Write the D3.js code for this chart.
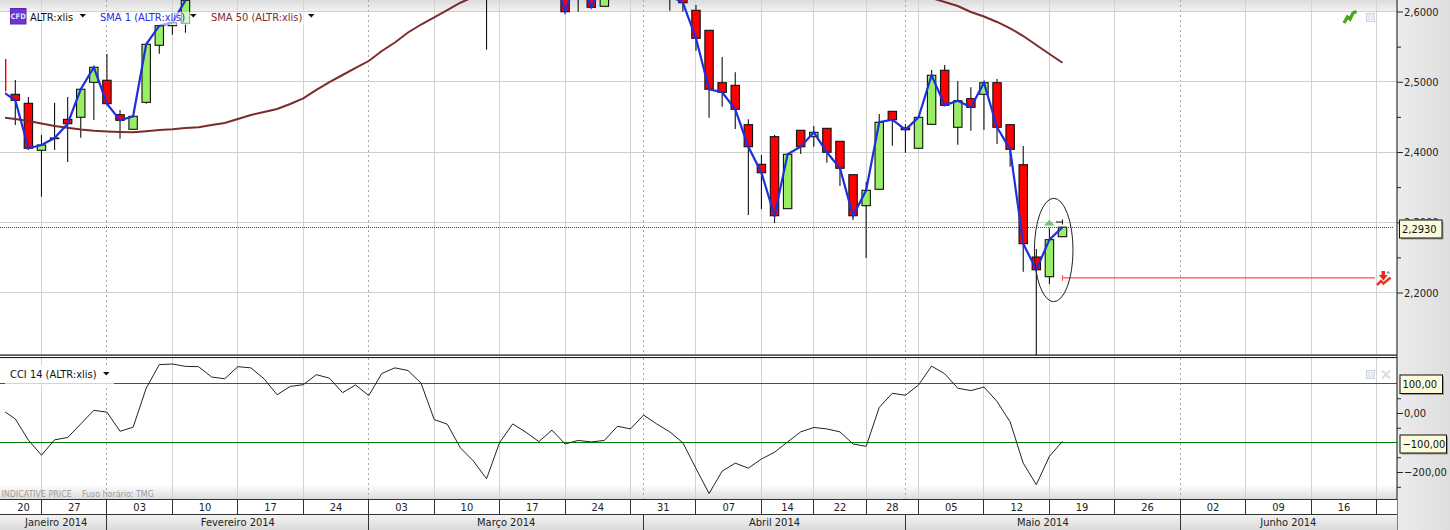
<!DOCTYPE html>
<html><head><meta charset="utf-8">
<script src="https://cdn.jsdelivr.net/npm/d3@7/dist/d3.min.js"></script>
<style>html,body{margin:0;padding:0;background:#fff;overflow:hidden}svg{display:block}
text{font-family:"DejaVu Sans Condensed","DejaVu Sans",sans-serif;font-stretch:condensed}</style></head><body><div id="c"></div>
<script>
// index of the first element is candle -1 (partly clipped at left edge)
const firstIndex=-1;
const opens=[2.5324,2.4821,2.4693,2.4024,2.4192,2.4465,2.4494,2.4992,2.5021,2.4531,2.4323,2.4707,2.5519,2.5798,2.5832,
null,null,null,null,null,null,null,null,null,null,null,null,null,null,null,null,null,null,null,null,null,null,
2.66,null,null,null,null,null,
2.6591,2.6733,2.6406,2.6074,null,null,null,null,2.64,2.6306,
2.6017,2.5732,2.4986,2.4949,2.4389,2.3825,2.4218,2.3193,2.4309,2.4218,2.4337,2.4152,2.3677,2.3236,2.3469,2.4579,2.4342,2.4053,2.4394,2.5163,2.4352,2.4759,2.4821,2.4986,2.4389,2.3819,2.2505,2.2225,2.2794];
const highs=[2.5324,2.5025,2.4783,2.4242,2.4702,2.4783,2.4893,2.5206,2.5395,2.4598,2.4508,2.5533,2.5798,2.5841,2.6159,
null,null,null,null,null,null,null,null,null,null,null,null,null,null,null,null,null,null,null,null,null,null,
2.67,null,null,null,null,null,
2.6591,2.68,2.65,2.6406,null,null,null,null,2.65,2.64,
2.6093,2.5732,2.5352,2.5135,2.4465,2.3957,2.4242,2.3967,2.4309,2.437,2.4337,2.4152,2.3677,2.3577,2.4541,2.4579,2.4394,2.4494,2.5167,2.5238,2.5011,2.4921,2.4986,2.5039,2.4389,2.4085,2.2619,2.2914,2.293];
const lows=[2.4864,2.4384,2.4028,2.3364,2.4028,2.3858,2.4204,2.4456,2.4688,2.4189,2.4323,2.4688,2.5399,2.567,2.5698,
null,null,null,null,null,null,null,null,null,null,null,null,null,null,null,null,null,null,null,null,null,null,
2.5456,null,null,null,null,null,
2.5997,2.5997,2.606,2.6074,null,null,null,null,2.6011,2.5997,
2.5442,2.4488,2.4645,2.4327,2.3103,2.3189,2.2989,2.3193,2.3971,2.4075,2.3848,2.3516,2.3032,2.2491,2.3469,2.409,2.399,2.4053,2.4394,2.4665,2.4104,2.4303,2.4313,2.4114,2.3791,2.2296,2.09,2.2121,2.2794];
const closes=[2.4864,2.4736,2.4053,2.41,2.4199,2.4403,2.4893,2.5206,2.4688,2.4451,2.4508,2.5533,2.5798,2.5841,2.6159,
null,null,null,null,null,null,null,null,null,null,null,null,null,null,null,null,null,null,null,null,null,null,
2.65,null,null,null,null,2.6648,
2.5997,2.652,2.606,2.6406,null,null,null,null,2.6225,2.6125,
2.5619,2.4893,2.485,2.4608,2.4075,2.3705,2.3093,2.3967,2.4075,2.428,2.3996,2.3768,2.3093,2.3455,2.4423,2.446,2.4317,2.4494,2.5092,2.4665,2.473,2.4636,2.4986,2.4352,2.4038,2.2695,2.2324,2.2752,2.293];
const sma50=[2.4494,2.447,2.4441,2.4406,2.437,2.4344,2.432,2.4302,2.4292,2.4285,2.428,2.4296,2.4313,2.4323,2.4342,2.4353,2.4384,2.4413,2.447,2.4527,2.4569,2.4612,2.4683,2.4764,2.4883,2.4996,2.5096,2.5196,2.5295,2.5438,2.5559,2.5701,2.5815,2.5915,2.6021,2.6125,2.6206,
null,null,null,null,null,null,null,null,null,null,null,null,null,null,null,null,null,null,null,null,null,null,null,null,null,null,null,null,null,null,null,null,null,null,
2.6192,2.6135,2.6078,2.5993,2.5929,2.5851,2.5761,2.5651,2.5523,2.5395,2.5271];
const cci=[10,-20,-92,-143,-91,-83,-37,9,3,-62,-48,84,164,166,158,157,122,116,157,153,116,62,90,96,130,118,69,95,59,134,153,144,101,-22,-38,-118,-163,-223,-100,-37,-65,-97,-58,-105,-93,-98,-93,-45,-54,-7,-37,-64,-101,-188,-273,-197,-170,-187,-156,-133,-98,-64,-49,-54,-64,-105,-113,19,67,60,95,159,133,84,76,88,39,-30,-170,-243,-147,-96];
const lastPrice=2.293, targetPrice=2.2207;
const priceTicks=[2.6,2.5,2.4,2.3,2.2];
const priceMinor=[2.55,2.45,2.35,2.25];
const cciTicks=[0,-200];
const cciMinor=[50,-50,-150,-250];
const cciLevels=[100,-100];
const weekBounds=[-0.75,2,7,12,17,22,27,32,37,42,47,52,57,61,65,69,74,79,84,89,94,99,104,105.5];
const weekLabels=["20","27","03","10","17","24","03","10","17","24","31","07","14","22","28","05","12","19","26","02","09","16",""];
const monthBounds=[-0.75,7,27,48,68,89,105.5];
const monthLabels=["Janeiro 2014","Fevereiro 2014","Março 2014","Abril 2014","Maio 2014","Junho 2014"];

const W=1450,H=530,plotL=5,plotR=1397,priceBottom=355,cciTop=357.5,cciBottom=499,weekBottom=514,fs=11;
const svg=d3.select("#c").append("svg").attr("width",W).attr("height",H);
const x=d3.scaleLinear().domain([0,80]).range([15.3,1062.5]);
const y=d3.scaleLinear().domain([2.6,2.2]).range([11.5,292.5]);
const yc=d3.scaleLinear().domain([100,-100]).range([383.5,442.5]);
const candles=closes.map((c,k)=>({i:k+firstIndex,o:opens[k],h:highs[k],l:lows[k],c}));
const defs=svg.append("defs");
function grad(id,stops,hor){const g=defs.append("linearGradient").attr("id",id).attr("x1",0).attr("x2",hor?1:0).attr("y1",0).attr("y2",hor?0:1);
 stops.forEach(s=>g.append("stop").attr("offset",s[0]).attr("stop-color",s[1]).attr("stop-opacity",s[2]==null?1:s[2]));}
grad("topG",[[0,"#dcdcdc"],[1,"#f2f2f2"]]);
grad("botG",[[0,"#e2e2e2",0],[1,"#dcdcdc",1]]);
grad("monG",[[0,"#f4f4f4"],[1,"#dadada"]]);
grad("paneG",[[0,"#ececec"],[1,"#dedede"]],true);
defs.append("clipPath").attr("id","pc").append("rect").attr("x",plotL).attr("y",0).attr("width",plotR-plotL).attr("height",priceBottom);
defs.append("clipPath").attr("id","cc").append("rect").attr("x",plotL).attr("y",cciTop).attr("width",plotR-plotL).attr("height",cciBottom-cciTop);

svg.append("rect").attr("width",W).attr("height",H).attr("fill","#fff");
svg.append("rect").attr("width",plotR).attr("height",11).attr("fill","url(#topG)");
svg.append("rect").attr("y",484).attr("width",plotR).attr("height",15).attr("fill","url(#botG)");

// vertical grid
const gridInner=weekBounds.slice(1,-1);
const monthInner=monthBounds.slice(1,-1);
const vg=svg.append("g").attr("shape-rendering","crispEdges");
[[0,priceBottom],[cciTop,cciBottom]].forEach(([a,b])=>{
 vg.selectAll(null).data(gridInner.filter(d=>!monthInner.includes(d))).join("line")
  .attr("x1",d=>x(d)).attr("x2",d=>x(d)).attr("y1",a).attr("y2",b).attr("stroke","#d2d2d2").attr("stroke-width",1);
 vg.selectAll(null).data(monthInner).join("line")
  .attr("x1",d=>x(d)).attr("x2",d=>x(d)).attr("y1",a).attr("y2",b).attr("stroke","#a8a8a8").attr("stroke-width",1).attr("stroke-dasharray","2,3");
});
// horizontal grid
svg.append("g").attr("shape-rendering","crispEdges").selectAll("line").data(priceTicks).join("line")
 .attr("x1",0).attr("x2",plotR).attr("y1",d=>y(d)).attr("y2",d=>y(d)).attr("stroke","#cfcfcf").attr("stroke-width",1);

// candles
const pg=svg.append("g").attr("clip-path","url(#pc)");
const vis=candles.filter(d=>d.o!=null);
pg.selectAll("line.w").data(vis.filter(d=>d.i>=0)).join("line").attr("class","w")
 .attr("x1",d=>x(d.i)).attr("x2",d=>x(d.i)).attr("y1",d=>y(d.h)).attr("y2",d=>y(d.l)).attr("stroke","#111").attr("stroke-width",1.1);
pg.selectAll("rect.b").data(vis).join("rect").attr("class","b")
 .attr("x",d=>x(d.i)-4.2).attr("width",8.4)
 .attr("y",d=>y(Math.max(d.o,d.c))).attr("height",d=>Math.max(0.6,Math.abs(y(d.o)-y(d.c))))
 .attr("fill",d=>d.c>=d.o?"#99ee66":"#ff0000").attr("stroke",d=>d.i<0?"none":"#111").attr("stroke-width",1.1);
// SMA 50 and SMA 1
const line=d3.line().defined(d=>d.v!=null).x(d=>x(d.i)).curve(d3.curveLinear);
pg.append("path").datum(sma50.map((v,k)=>({i:k+firstIndex,v})))
 .attr("d",line.y(d=>y(d.v))).attr("fill","none").attr("stroke","#7b2c2c").attr("stroke-width",2);
pg.append("path").datum(closes.map((v,k)=>({i:k+firstIndex,v})))
 .attr("d",line.y(d=>y(d.v))).attr("fill","none").attr("stroke","#1e2fdc").attr("stroke-width",2.2);
// last price dotted, target line
svg.append("line").attr("x1",0).attr("x2",1393).attr("y1",y(lastPrice)).attr("y2",y(lastPrice))
 .attr("stroke","#e00000").attr("stroke-width",1).attr("stroke-dasharray","1,1").attr("shape-rendering","crispEdges");
svg.append("line").attr("x1",x(80)).attr("x2",1375).attr("y1",y(targetPrice)).attr("y2",y(targetPrice)).attr("stroke","#ff4d4d").attr("stroke-width",1.2);
svg.append("line").attr("x1",x(80)).attr("x2",x(80)).attr("y1",y(targetPrice)-3).attr("y2",y(targetPrice)+3).attr("stroke","#ff4d4d").attr("stroke-width",1);
// ellipse + marks
svg.append("ellipse").attr("cx",1053.7).attr("cy",250).attr("rx",19.3).attr("ry",51.7).attr("fill","none").attr("stroke","#222").attr("stroke-width",1);
svg.append("path").attr("d","M1044,225.5L1049.3,219.8L1054.6,225.5Z").attr("fill","#6fc46f");
svg.append("path").attr("d","M1056,222H1063M1062.5,219.5V224.5").attr("stroke","#111").attr("fill","none");
// legends
const leg=svg.append("g");
leg.append("rect").attr("x",96).attr("y",12).attr("width",96).attr("height",13).attr("fill","#fff").attr("opacity",.6);
leg.append("rect").attr("x",208).attr("y",12).attr("width",98).attr("height",13).attr("fill","#fff").attr("opacity",.6);
leg.append("rect").attr("x",10.5).attr("y",8.5).attr("width",15.5).attr("height",15.5).attr("fill","#6f35cf").attr("stroke","#5a28b0");
leg.append("text").attr("x",18.2).attr("y",19).attr("text-anchor","middle").attr("font-size",7.5).attr("font-weight","bold").attr("fill","#dfe6ff").text("CFD");
const ltext=(tx,ty,t,c,cx)=>{
 leg.append("text").attr("x",tx).attr("y",ty).attr("font-size",fs).attr("fill",c).text(t);
 leg.append("path").attr("d",`M${cx-3},${ty-7}h6.5l-3.2,3.5z`).attr("fill","#111");
};
ltext(30,21,"ALTR:xlis","#111",82.5);
ltext(100,21,"SMA 1 (ALTR:xlis)","#2a2ae0",193);
ltext(211,21,"SMA 50 (ALTR:xlis)","#7b2c2c",311);

// Separator between panels
svg.append("rect").attr("x",0).attr("y",priceBottom-0.5).attr("width",plotR).attr("height",1.2).attr("fill","#111");
svg.append("rect").attr("x",0).attr("y",357).attr("width",plotR).attr("height",1.1).attr("fill","#222");

// CCI
svg.append("g").attr("shape-rendering","crispEdges").selectAll("line").data(cciLevels).join("line")
 .attr("x1",0).attr("x2",plotR).attr("y1",d=>yc(d)).attr("y2",d=>yc(d))
 .attr("stroke",d=>d>0?"#e01010":"#008000").attr("stroke-width",1);
const cg=svg.append("g").attr("clip-path","url(#cc)");
cg.append("path").datum(cci.map((v,k)=>({i:k+firstIndex,v})))
 .attr("d",line.y(d=>yc(d.v))).attr("fill","none").attr("stroke","#222").attr("stroke-width",1);
svg.append("rect").attr("x",5).attr("y",365).attr("width",109).attr("height",20).attr("fill","#fff").attr("opacity",.75);
leg.raise();
svg.append("text").attr("x",10).attr("y",378).attr("font-size",fs).attr("fill","#111").text("CCI 14 (ALTR:xlis)");
svg.append("path").attr("d","M103,372h6.5l-3.2,3.5z").attr("fill","#111");
svg.append("text").attr("x",1.5).attr("y",497).attr("font-size",8.8).attr("fill","#9a9a9a").text("INDICATIVE PRICE");
svg.append("text").attr("x",82).attr("y",497).attr("font-size",8.8).attr("fill","#9a9a9a").text("Fuso horário: TMG");

// Right pane
svg.append("rect").attr("x",plotR).attr("y",0).attr("width",W-plotR).attr("height",H).attr("fill","url(#paneG)");
const comma=d3.format(".4f"), comma2=d3.format(".2f");
const axP=d3.axisRight(y).tickValues(priceTicks).tickSize(6).tickPadding(1).tickFormat(d=>comma(d).replace(".",","));
svg.append("g").attr("transform",`translate(${plotR},0)`).call(axP);
svg.append("g").attr("transform",`translate(${plotR},0)`).call(d3.axisRight(y).tickValues(priceMinor).tickSize(4).tickFormat(""));
const axC=d3.axisRight(yc).tickValues(cciTicks).tickSize(6).tickPadding(1).tickFormat(d=>comma2(d).replace(".",","));
svg.append("g").attr("transform",`translate(${plotR},0)`).call(axC);
svg.append("g").attr("transform",`translate(${plotR},0)`).call(d3.axisRight(yc).tickValues(cciMinor).tickSize(4).tickFormat(""));
svg.selectAll(".domain").remove();
svg.selectAll(".tick line").attr("stroke","#222");
svg.selectAll(".tick text").attr("font-size",fs).attr("fill","#222").attr("font-family",null).style("font-family",'"DejaVu Sans Condensed","DejaVu Sans",sans-serif');
svg.append("line").attr("x1",plotR).attr("x2",plotR).attr("y1",0).attr("y2",H).attr("stroke","#333").attr("stroke-width",1.2);

function tag(x0,x1,y0,y1,t){
 svg.append("rect").attr("x",x0+1.5).attr("y",y0+1.5).attr("width",x1-x0).attr("height",y1-y0).attr("fill","#999");
 svg.append("rect").attr("x",x0).attr("y",y0).attr("width",x1-x0).attr("height",y1-y0).attr("fill","#fbfbdc").attr("stroke","#111").attr("stroke-width",1);
 svg.append("text").attr("x",x0+2.5).attr("y",(y0+y1)/2+3.9).attr("font-size",fs).attr("fill","#111").text(t);
}
tag(1399.5,1442,220,238,comma(lastPrice).replace(".",","));
tag(1400,1442.5,375,393.5,comma2(cciLevels[0]).replace(".",","));
tag(1400,1446.5,435,453,comma2(cciLevels[1]).replace(".",","));

// small icons
function box(cx,cy){svg.append("rect").attr("x",cx-4).attr("y",cy-4).attr("width",8).attr("height",8).attr("fill","#eef1f6").attr("stroke","#ccd3df");
 svg.append("rect").attr("x",cx-1.5).attr("y",cy-1.5).attr("width",3).attr("height",3).attr("fill","#fff").attr("stroke","#c4ccd8").attr("stroke-width",.6);}
box(1370.5,17.5);box(1370.5,374.5);
svg.append("path").attr("d","M1382,370.5l8,8M1390,370.5l-8,8").attr("stroke","#d8dde4").attr("stroke-width",2);
svg.append("path").attr("d","M1344,23l3.5,-6 2.5,2 3,-6 3.5,-1.5").attr("fill","none").attr("stroke","#4aa51c").attr("stroke-width",3.4);
svg.append("path").attr("d","M1377,285l4,-4 2.5,2.5 7,-6").attr("fill","none").attr("stroke","#e8381e").attr("stroke-width",2.5);
svg.append("path").attr("d","M1381.5,271h3.5v4h2.8l-4.5,5.5 -4.5,-5.5h2.7z").attr("fill","#e8281e");
svg.append("path").attr("d","M1386,273.5l2.2,-2.8 2.2,2.8z").attr("fill","#6aa0dc");

// Time rows
const tg=svg.append("g").attr("shape-rendering","crispEdges");
tg.append("rect").attr("x",0).attr("y",499).attr("width",plotR).attr("height",15).attr("fill","#fff");
tg.append("rect").attr("x",0).attr("y",514).attr("width",plotR).attr("height",16).attr("fill","url(#monG)");
tg.append("line").attr("x1",0).attr("x2",plotR).attr("y1",499.5).attr("y2",499.5).attr("stroke","#333");
tg.append("line").attr("x1",0).attr("x2",plotR).attr("y1",514.5).attr("y2",514.5).attr("stroke","#333");
const xCol=d=>x(d);
tg.selectAll("line.ws").data(gridInner).join("line").attr("class","ws").attr("x1",xCol).attr("x2",xCol).attr("y1",499).attr("y2",514).attr("stroke","#333");
tg.selectAll("line.ms").data(monthInner).join("line").attr("class","ms").attr("x1",xCol).attr("x2",xCol).attr("y1",514).attr("y2",530).attr("stroke","#333");
const clampX=v=>Math.min(plotR,Math.max(plotL,x(v)));
tg.selectAll("text.wl").data(weekLabels).join("text").attr("class","wl")
 .attr("x",(d,k)=>(clampX(weekBounds[k])+clampX(weekBounds[k+1]))/2).attr("y",511).attr("text-anchor","middle")
 .attr("font-size",fs).attr("fill","#222").text(d=>d);
tg.selectAll("text.ml").data(monthLabels).join("text").attr("class","ml")
 .attr("x",(d,k)=>(clampX(monthBounds[k])+clampX(monthBounds[k+1]))/2).attr("y",526).attr("text-anchor","middle")
 .attr("font-size",fs).attr("fill","#222").text(d=>d);
</script></body></html>
